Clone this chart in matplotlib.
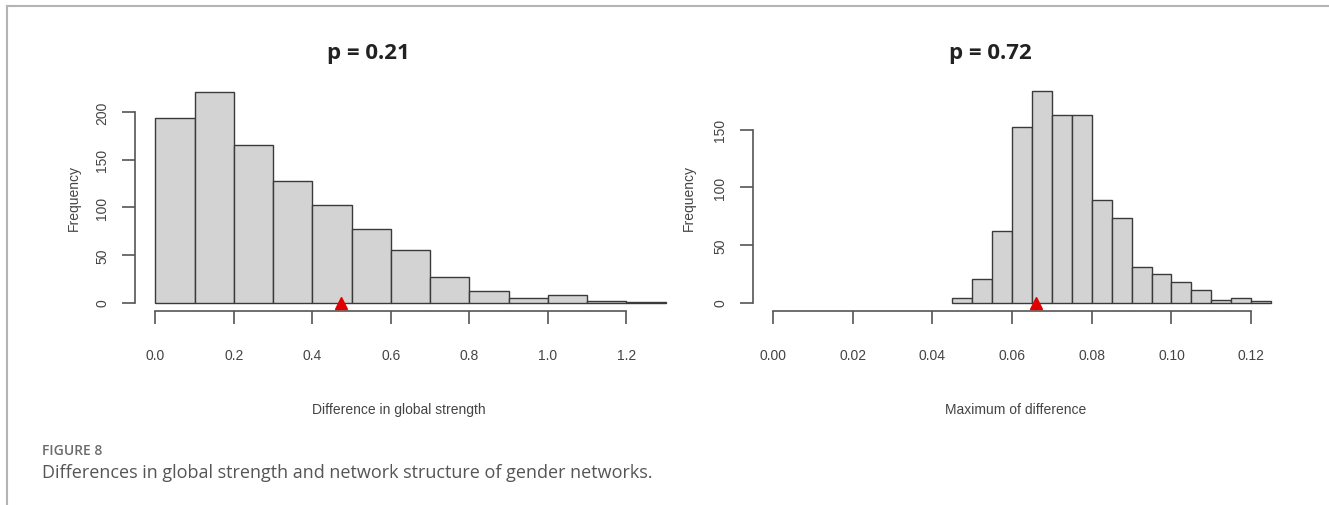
import matplotlib
matplotlib.use("Agg")
import matplotlib.pyplot as plt
from matplotlib.lines import Line2D

# permutation test results (1000 permutations each)
strength_breaks = [0.0, 0.1, 0.2, 0.3, 0.4, 0.5, 0.6, 0.7, 0.8, 0.9, 1.0, 1.1, 1.2, 1.3]
strength_counts = [194, 221, 166, 128, 103, 77, 55, 27, 12, 5, 8, 2, 1]
strength_observed = 0.474
strength_xticks = [0.0, 0.2, 0.4, 0.6, 0.8, 1.0, 1.2]
strength_xlabels = ["0.0", "0.2", "0.4", "0.6", "0.8", "1.0", "1.2"]
strength_yticks = [0, 50, 100, 150, 200]

maxdiff_breaks = [0.045, 0.05, 0.055, 0.06, 0.065, 0.07, 0.075, 0.08, 0.085,
                  0.09, 0.095, 0.1, 0.105, 0.11, 0.115, 0.12, 0.125]
maxdiff_counts = [4, 20, 62, 152, 183, 163, 163, 89, 73, 31, 25, 18, 11, 2, 4, 1]
maxdiff_observed = 0.066
maxdiff_xticks = [0.0, 0.02, 0.04, 0.06, 0.08, 0.10, 0.12]
maxdiff_xlabels = ["0.00", "0.02", "0.04", "0.06", "0.08", "0.10", "0.12"]
maxdiff_yticks = [0, 50, 100, 150]

W, H = 1329, 506
fig = plt.figure(figsize=(W / 100, H / 100), dpi=100)
fig.patch.set_facecolor("white")

axis_font = "Liberation Sans"
axis_color = "#444444"


def px_axes(x0, x1, y0, y1):
    # pixel box (from top-left) -> figure axes
    return fig.add_axes([x0 / W, (H - y1) / H, (x1 - x0) / W, (y1 - y0) / H])


def r_hist(ax, breaks, counts, observed, xlim, ylim, xticks, xlabels, yticks,
           xlabel, xlabel_x, ylabel_x):
    lefts = breaks[:-1]
    widths = [b - a for a, b in zip(breaks[:-1], breaks[1:])]
    ax.bar(lefts, counts, width=widths, align="edge", color="#d3d3d3",
           edgecolor="#3a3a3a", linewidth=1.0, zorder=2)
    ax.plot([observed], [0], marker="^", color="#e00000", markersize=9,
            linestyle="none", zorder=3, clip_on=False)
    ax.set_xlim(*xlim)
    ax.set_ylim(*ylim)
    for s in ["top", "right"]:
        ax.spines[s].set_visible(False)
    ax.spines["left"].set_bounds(yticks[0], yticks[-1])
    ax.spines["bottom"].set_bounds(xticks[0], xticks[-1])
    for s in ["left", "bottom"]:
        ax.spines[s].set_color("#555555")
        ax.spines[s].set_linewidth(1.2)
    ax.set_xticks(xticks)
    ax.set_xticklabels(xlabels)
    ax.set_yticks(yticks)
    ax.set_yticklabels([str(v) for v in yticks], rotation=90, va="center")
    ax.tick_params(axis="x", length=9.5, width=1.2, color="#555555", pad=17,
                   labelsize=10, labelcolor=axis_color)
    ax.tick_params(axis="y", length=9.5, width=1.2, color="#555555", pad=9,
                   labelsize=10, labelcolor=axis_color)
    for lab in ax.get_xticklabels() + ax.get_yticklabels():
        lab.set_fontfamily(axis_font)
    ax.set_xlabel(xlabel, fontsize=10, color=axis_color, fontfamily=axis_font)
    ax.xaxis.set_label_coords(xlabel_x, -0.40)
    ax.set_ylabel("Frequency", fontsize=10, color=axis_color, fontfamily=axis_font)
    ax.yaxis.set_label_coords(ylabel_x, 0.5)
    ax.patch.set_alpha(0)


ax1 = px_axes(135, 686, 85, 312)
r_hist(ax1, strength_breaks, strength_counts, strength_observed,
       (-0.052, 1.352), (-8.84, 229.84), strength_xticks, strength_xlabels,
       strength_yticks, "Difference in global strength", 0.479, -0.098)

ax2 = px_axes(753, 1291, 84, 312)
r_hist(ax2, maxdiff_breaks, maxdiff_counts, maxdiff_observed,
       (-0.005, 0.13), (-7.32, 190.32), maxdiff_xticks, maxdiff_xlabels,
       maxdiff_yticks, "Maximum of difference", 0.489, -0.106)

# titles
fig.text(368 / W, 1 - 53 / H, "p = 0.21", ha="center", va="center",
         fontsize=16, fontweight="bold", fontfamily="Open Sans", color="#222222")
fig.text(990 / W, 1 - 53 / H, "p = 0.72", ha="center", va="center",
         fontsize=16, fontweight="bold", fontfamily="Open Sans", color="#222222")

# caption
fig.text(42 / W, 1 - 451 / H, "FIGURE 8", ha="left", va="center",
         fontsize=10, fontweight="semibold", fontfamily="Open Sans", color="#6b6b6b")
fig.text(42 / W, 1 - 473 / H,
         "Differences in global strength and network structure of gender networks.",
         ha="left", va="center", fontsize=13, fontfamily="Open Sans", color="#555555")

# frame lines
fig.add_artist(Line2D([7 / W, 1], [1 - 7 / H, 1 - 7 / H], transform=fig.transFigure,
                      color="#b4b4b4", linewidth=1.5))
fig.add_artist(Line2D([7 / W, 7 / W], [0, 1 - 7 / H], transform=fig.transFigure,
                      color="#b4b4b4", linewidth=1.5))

fig.savefig("out.png", dpi=100, facecolor="white")
